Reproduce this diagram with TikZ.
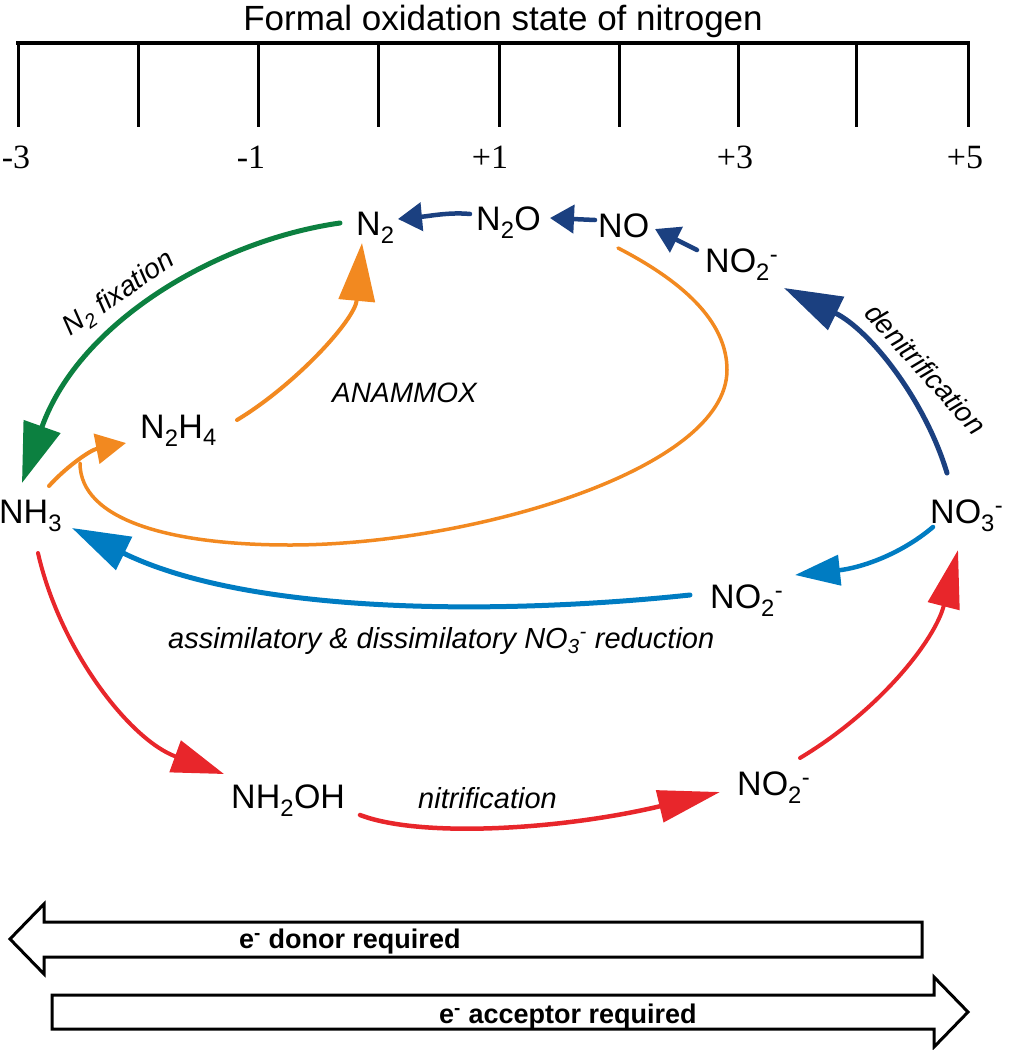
\documentclass[tikz,border=0pt]{standalone}
\usepackage{fontspec}
\setmainfont{Liberation Sans}
\newfontfamily\scalefont{Liberation Serif}
\usetikzlibrary{arrows.meta}
\definecolor{fixgreen}{RGB}{12,128,64}
\definecolor{navy}{RGB}{27,64,128}
\definecolor{lblue}{RGB}{0,124,194}
\definecolor{amxorange}{RGB}{242,137,32}
\definecolor{nitred}{RGB}{232,38,43}
\tikzset{
  chem/.style={inner sep=0pt, anchor=base west, font=\fontsize{34}{40}\selectfont},
  proc/.style={inner sep=0pt, font=\fontsize{28}{34}\selectfont\itshape},
  scalelab/.style={inner sep=0pt, anchor=base, font=\scalefont\fontsize{34}{40}\selectfont},
  bigtip/.style={-{Triangle[length=58pt,width=36pt]}},
  smalltip/.style={-{Triangle[length=24pt,width=28pt]}},
  flow/.style={line cap=round},
  boxarrow/.style={draw=black, line width=3pt, fill=white, line join=miter},
  boxlab/.style={inner sep=0pt, anchor=west, font=\fontsize{27}{32}\selectfont\bfseries}
}
\begin{document}
\begin{tikzpicture}[x=1pt,y=-1pt]
\path[use as bounding box] (0,0) rectangle (1009,1050);
% scale
\node[inner sep=0pt, anchor=base, font=\fontsize{35}{42}\selectfont] (title) at (503,30) {Formal oxidation state of nitrogen};
\draw[line width=4.5pt] (16,43) -- (970,43);
\foreach \x in {18,138,258,378,499,619,738,856,968}
  \draw[line width=3pt] (\x,43) -- (\x,127);
\node[scalelab] (s1) at (16,168) {-3};
\node[scalelab] (s2) at (251,168) {-1};
\node[scalelab] (s3) at (490,168) {+1};
\node[scalelab] (s4) at (735,168) {+3};
\node[scalelab] (s5) at (965,168) {+5};
% species
\node[chem] (NH3) at (-1,523) {NH\textsubscript{3}};
\node[chem] (N2) at (356,235) {N\textsubscript{2}};
\node[chem] (N2O) at (476,230) {N\textsubscript{2}O};
\node[chem] (NO) at (598,237) {NO};
\node[chem] (NO2t) at (705,272) {NO\textsubscript{2}\textsuperscript{-}};
\node[chem] (NO3) at (930,523) {NO\textsubscript{3}\textsuperscript{-}};
\node[chem] (N2H4) at (140,438) {N\textsubscript{2}H\textsubscript{4}};
\node[chem] (NO2m) at (710,608) {NO\textsubscript{2}\textsuperscript{-}};
\node[chem] (NO2b) at (737,795) {NO\textsubscript{2}\textsuperscript{-}};
\node[chem] (NH2OH) at (231,808) {NH\textsubscript{2}OH};
% process labels
\node[proc, rotate=35] (lfix) at (119,294) {N\textsubscript{2} fixation};
\node[proc, anchor=base west] (lanammox) at (332,402) {ANAMMOX};
\node[proc, rotate=-48] (ldenit) at (926,369) {denitrification};
\node[proc, anchor=base west, font=\fontsize{29}{34}\selectfont\itshape] (lassim) at (168,648) {assimilatory \& dissimilatory NO\textsubscript{3}\textsuperscript{-} reduction};
\node[proc, anchor=base west, font=\fontsize{29}{34}\selectfont\itshape] (lnitr) at (418,808) {nitrification};
% N2 fixation
\draw[flow, fixgreen, line width=5pt, -{Triangle[length=60pt,width=38pt]}]
  ([shift={(-16,-12)}]N2.base west) .. controls (220,240) and (80,320) .. ([shift={(23,-40)}]NH3.base west);
% ANAMMOX
\draw[flow, amxorange, line width=4pt, bigtip]
  ([shift={(97,-18)}]N2H4.base west) .. controls (295,385) and (355,320) .. ([shift={(6,8)}]N2.base west);
\draw[flow, amxorange, line width=4pt, -{Triangle[length=30pt,width=30pt]}]
  ([shift={(50,-37)}]NH3.base west) .. controls (65,468) and (90,450) .. ([shift={(-14,5)}]N2H4.base west);
\draw[flow, amxorange, line width=3.5pt]
  ([shift={(20,11)}]NO.base west) .. controls (680,280) and (727,320) .. (727,370)
  .. controls (727,470) and (470,545) .. (290,545)
  .. controls (170,545) and (80,520) .. ([shift={(81,-60)}]NH3.base west);
% denitrification
\draw[flow, navy, line width=5pt, bigtip]
  ([shift={(17,-50)}]NO3.base west) .. controls (925,400) and (870,330) .. ([shift={(79,16)}]NO2t.base west);
\draw[flow, navy, line width=4.5pt, smalltip]
  ([shift={(-8,-22)}]NO2t.base west) -- ([shift={(57,-8)}]NO.base west);
\draw[flow, navy, line width=4.5pt, smalltip]
  ([shift={(-3,-17)}]NO.base west) -- ([shift={(74,-12)}]N2O.base west);
\draw[flow, navy, line width=4.5pt, smalltip]
  ([shift={(-6,-16)}]N2O.base west) .. controls (450,212) and (430,216) .. ([shift={(42,-16)}]N2.base west);
% NO3- reduction
\draw[flow, lblue, line width=4.5pt, -{Triangle[length=45pt,width=30pt]}]
  ([shift={(3,4)}]NO3.base west) .. controls (900,555) and (860,568) .. ([shift={(85,-33)}]NO2m.base west);
\draw[flow, lblue, line width=5pt, bigtip]
  ([shift={(-20,-13)}]NO2m.base west) .. controls (500,615) and (250,615) .. ([shift={(73,5)}]NH3.base west);
% nitrification
\draw[flow, nitred, line width=4pt, -{Triangle[length=52pt,width=33pt]}]
  ([shift={(39,30)}]NH3.base west) .. controls (60,650) and (130,740) .. ([shift={(-7,-34)}]NH2OH.base west);
\draw[flow, nitred, line width=4.5pt, -{Triangle[length=62pt,width=32pt]}]
  ([shift={(129,7)}]NH2OH.base west) .. controls (420,838) and (560,830) .. ([shift={(-17,-3)}]NO2b.base west);
\draw[flow, nitred, line width=4pt, -{Triangle[length=58pt,width=32pt]}]
  ([shift={(63,-37)}]NO2b.base west) .. controls (880,710) and (935,640) .. ([shift={(28,27)}]NO3.base west);
% electron arrows
\draw[boxarrow] (922,922) -- (44,922) -- (44,904) -- (10,939) -- (44,974) -- (44,957) -- (922,957) -- cycle;
\node[boxlab] (edonor) at (239,942) {e\textsuperscript{-} donor required};
\draw[boxarrow] (52,995) -- (934,995) -- (934,977) -- (968,1012) -- (934,1047) -- (934,1029) -- (52,1029) -- cycle;
\node[boxlab] (eacc) at (439,1017) {e\textsuperscript{-} acceptor required};
\end{tikzpicture}
\end{document}
